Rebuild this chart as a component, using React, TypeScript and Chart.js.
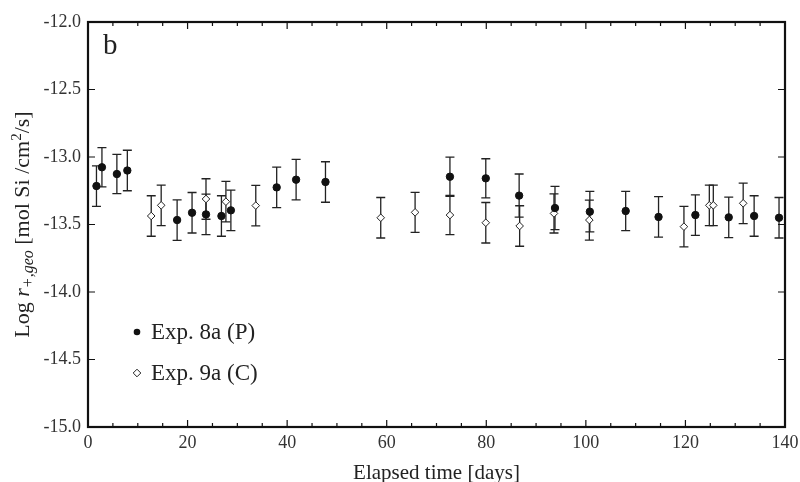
import React, { useEffect, useRef } from "react";
import { Chart, registerables } from "chart.js";

Chart.register(...registerables);

const days8a = [1.7, 2.8, 5.8, 7.9, 17.9, 20.9, 23.7, 26.8, 28.7, 37.9, 41.8, 47.7, 72.7, 79.9, 86.6, 93.8, 100.8, 108, 114.6, 122, 128.7, 133.8, 138.8];
const vals8a = [-13.215, -13.076, -13.126, -13.1, -13.467, -13.413, -13.425, -13.437, -13.395, -13.225, -13.168, -13.185, -13.146, -13.158, -13.286, -13.378, -13.405, -13.4, -13.444, -13.43, -13.447, -13.437, -13.45];
const errs8a = [0.15, 0.145, 0.145, 0.15, 0.15, 0.15, 0.15, 0.15, 0.15, 0.15, 0.15, 0.15, 0.145, 0.145, 0.16, 0.16, 0.15, 0.145, 0.15, 0.15, 0.15, 0.15, 0.15];

const days9a = [12.7, 14.7, 23.7, 27.7, 33.7, 58.8, 65.7, 72.7, 79.9, 86.7, 93.6, 100.7, 119.7, 124.8, 125.6, 131.6];
const vals9a = [-13.437, -13.358, -13.311, -13.331, -13.36, -13.45, -13.41, -13.43, -13.487, -13.511, -13.418, -13.467, -13.516, -13.358, -13.358, -13.343];
const errs9a = [0.15, 0.15, 0.15, 0.15, 0.15, 0.15, 0.148, 0.145, 0.15, 0.15, 0.145, 0.148, 0.15, 0.15, 0.15, 0.15];

const legendLabels = ["Exp. 8a (P)", "Exp. 9a (C)"];
const xTitle = "Elapsed time [days]";
const panelLabel = "b";

const FONT = "'Liberation Serif', 'Times New Roman', serif";
const INK = "#222";

const errorBarPlugin = {
  id: "errorBars",
  beforeDatasetsDraw(chart: any) {
    const ctx = chart.ctx;
    const xs = chart.scales.x;
    const ys = chart.scales.y;
    const sets = [
      { d: days8a, v: vals8a, e: errs8a },
      { d: days9a, v: vals9a, e: errs9a },
    ];
    ctx.save();
    ctx.strokeStyle = INK;
    ctx.lineWidth = 1.3;
    sets.forEach((s) => {
      s.d.forEach((day, i) => {
        const px = xs.getPixelForValue(day);
        const top = ys.getPixelForValue(s.v[i] + s.e[i]);
        const bot = ys.getPixelForValue(s.v[i] - s.e[i]);
        ctx.beginPath();
        ctx.moveTo(px, top);
        ctx.lineTo(px, bot);
        ctx.moveTo(px - 4.5, top);
        ctx.lineTo(px + 4.5, top);
        ctx.moveTo(px - 4.5, bot);
        ctx.lineTo(px + 4.5, bot);
        ctx.stroke();
      });
    });
    ctx.restore();
  },
};

const framePlugin = {
  id: "frame",
  afterDraw(chart: any) {
    const ctx = chart.ctx;
    const { left, right, top, bottom } = chart.chartArea;
    const xs = chart.scales.x;
    const ys = chart.scales.y;
    ctx.save();
    ctx.strokeStyle = "#111";
    ctx.lineWidth = 2.2;
    ctx.strokeRect(left, top, right - left, bottom - top);
    ctx.lineWidth = 1.2;
    ctx.beginPath();
    for (let d = 0; d <= 140; d += 5) {
      const px = xs.getPixelForValue(d);
      const len = d % 20 === 0 ? 7 : 4;
      ctx.moveTo(px, bottom);
      ctx.lineTo(px, bottom - len);
      ctx.moveTo(px, top);
      ctx.lineTo(px, top + len);
    }
    for (let k = 0; k <= 6; k++) {
      const py = ys.getPixelForValue(-15 + k * 0.5);
      ctx.moveTo(left, py);
      ctx.lineTo(left + 7, py);
      ctx.moveTo(right, py);
      ctx.lineTo(right - 7, py);
    }
    ctx.stroke();

    // panel label
    ctx.fillStyle = INK;
    ctx.font = `29px ${FONT}`;
    ctx.textAlign = "left";
    ctx.textBaseline = "alphabetic";
    ctx.fillText(panelLabel, 103, 54);

    // legend
    ctx.font = `23px ${FONT}`;
    ctx.textBaseline = "middle";
    const lx = 137;
    const ly1 = 332;
    const ly2 = 373;
    ctx.beginPath();
    ctx.arc(lx, ly1, 3.3, 0, Math.PI * 2);
    ctx.fillStyle = "#111";
    ctx.fill();
    ctx.beginPath();
    ctx.moveTo(lx, ly2 - 3.8);
    ctx.lineTo(lx + 3.8, ly2);
    ctx.lineTo(lx, ly2 + 3.8);
    ctx.lineTo(lx - 3.8, ly2);
    ctx.closePath();
    ctx.fillStyle = "#fff";
    ctx.fill();
    ctx.strokeStyle = INK;
    ctx.lineWidth = 1;
    ctx.stroke();
    ctx.fillStyle = INK;
    ctx.fillText(legendLabels[0], 151, ly1 + 1);
    ctx.fillText(legendLabels[1], 151, ly2 + 1);

    // x title
    ctx.font = `21px ${FONT}`;
    ctx.textAlign = "center";
    ctx.textBaseline = "alphabetic";
    ctx.fillText(xTitle, (left + right) / 2, 479);

    // y title with mixed styles
    const segs: { t: string; f: string; dy: number }[] = [
      { t: "Log ", f: `22px ${FONT}`, dy: 0 },
      { t: "r", f: `italic 22px ${FONT}`, dy: 0 },
      { t: "+,geo", f: `italic 16px ${FONT}`, dy: 4 },
      { t: " [mol Si /cm", f: `22px ${FONT}`, dy: 0 },
      { t: "2", f: `15px ${FONT}`, dy: -8 },
      { t: "/s]", f: `22px ${FONT}`, dy: 0 },
    ];
    let total = 0;
    segs.forEach((s) => {
      ctx.font = s.f;
      total += ctx.measureText(s.t).width;
    });
    ctx.translate(29, (top + bottom) / 2);
    ctx.rotate(-Math.PI / 2);
    ctx.textAlign = "left";
    let cx = -total / 2;
    segs.forEach((s) => {
      ctx.font = s.f;
      ctx.fillText(s.t, cx, s.dy);
      cx += ctx.measureText(s.t).width;
    });
    ctx.restore();
  },
};

export default function App() {
  const ref = useRef<HTMLCanvasElement | null>(null);
  useEffect(() => {
    if (!ref.current) return;
    const chart = new Chart(ref.current, {
      type: "scatter",
      data: {
        datasets: [
          {
            label: legendLabels[0],
            data: days8a.map((d, i) => ({ x: d, y: vals8a[i] })),
            pointStyle: "circle",
            pointRadius: 3.7,
            backgroundColor: "#111",
            borderColor: "#111",
            borderWidth: 1,
          },
          {
            label: legendLabels[1],
            data: days9a.map((d, i) => ({ x: d, y: vals9a[i] })),
            pointStyle: "rectRot",
            pointRadius: 3.8,
            backgroundColor: "#fff",
            borderColor: "#222",
            borderWidth: 1,
          },
        ],
      },
      options: {
        animation: false,
        responsive: false,
        events: [],
        layout: { padding: { top: 22, right: 15, left: 0, bottom: 0 } },
        plugins: { legend: { display: false }, tooltip: { enabled: false } },
        scales: {
          x: {
            type: "linear",
            min: 0,
            max: 140,
            grid: { display: false, drawTicks: false },
            border: { display: false },
            ticks: {
              stepSize: 20,
              padding: 5,
              color: "#333",
              font: { family: FONT, size: 18 },
              maxRotation: 0,
            },
            afterFit(s: any) {
              s.height = 55;
              s.paddingLeft = 0;
              s.paddingRight = 0;
            },
          },
          y: {
            type: "linear",
            min: -15,
            max: -12,
            grid: { display: false, drawTicks: false },
            border: { display: false },
            ticks: {
              stepSize: 0.5,
              padding: 7,
              color: "#333",
              font: { family: FONT, size: 18 },
              callback: (v: any) => Number(v).toFixed(1),
            },
            afterFit(s: any) {
              s.width = 88;
              s.paddingTop = 0;
              s.paddingBottom = 0;
            },
          },
        },
      },
      plugins: [errorBarPlugin, framePlugin],
    } as any);
    return () => chart.destroy();
  }, []);
  return (
    <div style={{ position: "fixed", left: 0, top: 0, width: 800, height: 482, background: "#fff" }}>
      <canvas ref={ref} width={800} height={482} />
    </div>
  );
}
